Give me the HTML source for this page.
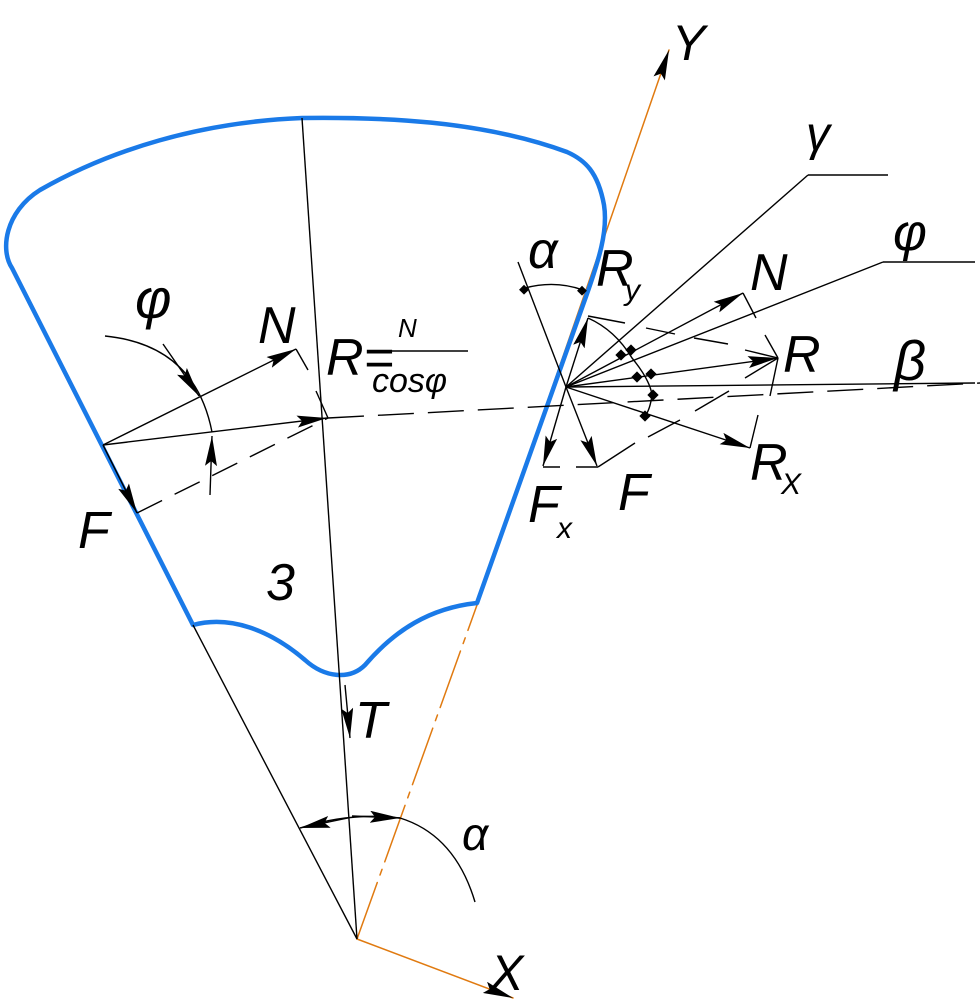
<!DOCTYPE html>
<html><head><meta charset="utf-8"><style>
html,body{margin:0;padding:0;background:#fff}
svg{display:block}
text{font-family:"Liberation Sans",sans-serif;font-style:italic;fill:#000}
</style></head><body>
<svg width="980" height="1002" viewBox="0 0 980 1002" xmlns="http://www.w3.org/2000/svg">
<defs>
<marker id="a" viewBox="0 0 30 12" refX="30" refY="6" markerWidth="30" markerHeight="12" markerUnits="userSpaceOnUse" orient="auto"><path d="M0,0 L30,6 L0,12 L5,6 Z" fill="#000"/></marker>
</defs>
<g fill="none" stroke-linecap="round">
<line x1="357" y1="939" x2="477" y2="605" stroke="#e07a10" stroke-width="1.5" stroke-dasharray="60,8,6,8"/>
<line x1="477" y1="605" x2="669" y2="50" stroke="#e07a10" stroke-width="1.5" marker-end="url(#a)"/>
<line x1="357" y1="939" x2="513" y2="998" stroke="#e07a10" stroke-width="1.5" marker-end="url(#a)"/>
<path d="M193,625 C230,615 270,630 305,660 C325,678 350,680 365,665 C395,630 430,608 477,603 L583,305 C600,258 608,230 604,205 C598,172 585,160 567,152 C480,120 380,117 302,118 C200,122 110,150 40,190 C5,212 0,250 12,268 Z" stroke="#1a7ae8" stroke-width="4.5" stroke-linejoin="round"/>
</g>
<g fill="none" stroke="#000" stroke-width="1.4">
<line x1="302" y1="118" x2="357" y2="939"/>
<line x1="193" y1="625" x2="357" y2="939"/>
<line x1="345" y1="685" x2="350" y2="738" marker-end="url(#a)"/>
<path d="M300,828 Q350,812 400,818 Q455,835 475,902"/>
<line x1="348" y1="818" x2="300" y2="828" marker-end="url(#a)"/>
<line x1="352" y1="816" x2="400" y2="818" marker-end="url(#a)"/>
<line x1="103" y1="445" x2="296" y2="349" marker-end="url(#a)"/>
<line x1="103" y1="445" x2="327" y2="418" marker-end="url(#a)"/>
<line x1="103" y1="445" x2="137" y2="513" marker-end="url(#a)"/>
<line x1="296" y1="349" x2="308" y2="370"/>
<line x1="316" y1="391" x2="328" y2="418"/>
<line x1="137" y1="513" x2="328" y2="418" stroke-dasharray="28,14"/>
<line x1="328" y1="418" x2="980" y2="383" stroke-dasharray="36,14"/>
<path d="M105,336 Q195,345 212,432"/>
<line x1="163" y1="344" x2="199" y2="396" marker-end="url(#a)"/>
<line x1="210" y1="495" x2="212" y2="436" marker-end="url(#a)"/>
<line x1="566" y1="387" x2="975" y2="383"/>
<line x1="566" y1="387" x2="808" y2="175"/><line x1="808" y1="175" x2="888" y2="175"/>
<line x1="566" y1="387" x2="883" y2="262"/><line x1="883" y1="262" x2="975" y2="262"/>
<line x1="566" y1="387" x2="743" y2="293" marker-end="url(#a)"/>
<line x1="566" y1="387" x2="778" y2="358" marker-end="url(#a)"/>
<line x1="566" y1="387" x2="750" y2="448" marker-end="url(#a)"/>
<line x1="566" y1="387" x2="588" y2="318" marker-end="url(#a)"/>
<line x1="566" y1="387" x2="597" y2="466" marker-end="url(#a)"/>
<line x1="566" y1="387" x2="543" y2="466" marker-end="url(#a)"/>
<line x1="566" y1="387" x2="518" y2="262"/>
<path d="M525,288 Q555,280 583,290"/>
<line x1="743" y1="293" x2="756" y2="318"/>
<line x1="588" y1="316" x2="625" y2="323"/>
<line x1="646" y1="328" x2="675" y2="334"/><line x1="694" y1="338" x2="728" y2="344"/><line x1="745" y1="350" x2="778" y2="358"/>
<line x1="765" y1="335" x2="778" y2="358"/><line x1="778" y1="358" x2="770" y2="396"/>
<line x1="778" y1="358" x2="745" y2="378"/><line x1="729" y1="391" x2="695" y2="411"/><line x1="680" y1="420" x2="648" y2="437"/><line x1="635" y1="443" x2="598" y2="467"/>
<line x1="750" y1="448" x2="758" y2="415"/>
<line x1="543" y1="467" x2="560" y2="467"/><line x1="576" y1="467" x2="598" y2="467"/>
<path d="M588,318 Q615,330 632,358 Q650,380 652,395 Q650,410 645,416"/>
</g>
<g fill="#000">
<rect x="521" y="286" width="7" height="7" transform="rotate(45 524 289)"/>
<rect x="579" y="287" width="7" height="7" transform="rotate(45 582 290)"/>
<rect x="617" y="351" width="8" height="8" transform="rotate(45 621 355)"/>
<rect x="627" y="346" width="8" height="8" transform="rotate(45 631 350)"/>
<rect x="633" y="373" width="8" height="8" transform="rotate(45 637 377)"/>
<rect x="647" y="370" width="8" height="8" transform="rotate(45 651 374)"/>
<rect x="649" y="391" width="8" height="8" transform="rotate(45 653 395)"/>
<rect x="641" y="412" width="8" height="8" transform="rotate(45 645 416)"/>
</g>
<g font-size="52">
<text x="135" y="318" font-size="56">φ</text>
<text x="258" y="343">N</text>
<text x="326" y="375">R=</text>
<text x="398" y="337" font-size="26">N</text>
<line x1="368" y1="351" x2="468" y2="351" stroke="#000" stroke-width="1.4"/>
<text x="372" y="392" font-size="34">cosφ</text>
<text x="78" y="548">F</text>
<text x="266" y="600">3</text>
<text x="355" y="738">T</text>
<text x="462" y="850" font-size="46">α</text>
<text x="528" y="268" font-size="52" font-style="normal">α</text>
<text x="596" y="286">R</text><text x="625" y="300" font-size="30">y</text>
<text x="750" y="290">N</text>
<text x="783" y="372">R</text>
<text x="894" y="380" font-size="56" font-style="normal">β</text>
<text x="750" y="480">R</text><text x="781" y="494" font-size="30">X</text>
<text x="618" y="510">F</text>
<text x="528" y="522">F</text><text x="557" y="538" font-size="30">x</text>
<text x="806" y="150" font-size="48" font-style="normal">γ</text>
<text x="893" y="250" font-size="52">φ</text>
<text x="672" y="60" font-size="50">Y</text>
<text x="490" y="990" font-size="50">X</text>
</g>
</svg>
</body></html>
